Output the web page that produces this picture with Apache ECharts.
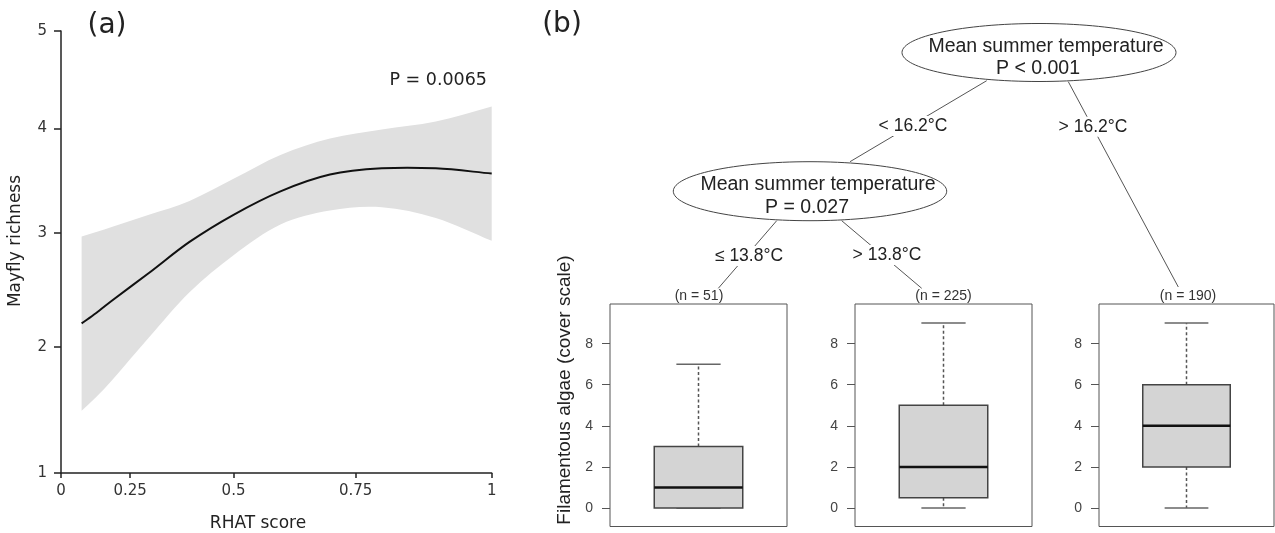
<!DOCTYPE html>
<html><head><meta charset="utf-8">
<script src="https://cdn.jsdelivr.net/npm/echarts@6/dist/echarts.min.js"></script>
<style>html,body{margin:0;padding:0;background:#fff}#c{width:1275px;height:533px}</style>
</head><body><div id="c"></div>
<script>
// ---------- Panel (a) data ----------
const rhatX     = [0.1, 0.15, 0.2, 0.3, 0.4, 0.5, 0.6, 0.7, 0.8, 0.9, 1.0];
const richFit   = [2.20, 2.29, 2.40, 2.64, 2.92, 3.17, 3.39, 3.55, 3.61, 3.61, 3.56];
const richLower = [1.48, 1.59, 1.73, 2.08, 2.47, 2.80, 3.08, 3.21, 3.24, 3.14, 2.93];
const richUpper = [2.97, 3.01, 3.06, 3.17, 3.30, 3.51, 3.74, 3.90, 3.99, 4.07, 4.22];
const xTicks = [0, 0.25, 0.5, 0.75, 1];
const xTickLabels = ['0', '0.25', '0.5', '0.75', '1'];
const yTicks = [1, 2, 3, 4, 5];
const yTickLabels = ['1', '2', '3', '4', '5'];
// ---------- Panel (b) data ----------
const nodeLabels = ['(n = 51)', '(n = 225)', '(n = 190)'];
const boxMin    = [0, 0, 0];
const boxQ1     = [0, 0.5, 2];
const boxMedian = [1, 2, 4];
const boxQ3     = [3, 5, 6];
const boxMax    = [7, 9, 9];
const boxTicks  = [0, 2, 4, 6, 8];

// axis transforms of the original figure (non-linear scales)
const fx = x => Math.pow(x, 1.32);
const fy = v => Math.sqrt(v + 3);
function nearestLabel(val, ticks, labels, f) {
  let b = 0;
  for (let i = 1; i < ticks.length; i++) if (Math.abs(f(ticks[i]) - val) < Math.abs(f(ticks[b]) - val)) b = i;
  return labels[b];
}

const FA = "'DejaVu Sans', Verdana, sans-serif";
const FB = "'Liberation Sans', Arial, sans-serif";

const chart = echarts.init(document.getElementById('c'), null, {renderer: 'canvas'});

const boxGrids = [
  {left: 610, top: 304, width: 177, height: 222.5},
  {left: 855, top: 304, width: 177, height: 222.5},
  {left: 1099, top: 304, width: 175, height: 222.5}
];

const grids = [{left: 61, top: 31, width: 430.7, height: 442, show: false}].concat(
  boxGrids.map(g => Object.assign({show: true, borderColor: '#555', borderWidth: 1, backgroundColor: 'transparent'}, g)));

const xAxes = [{
  gridIndex: 0, type: 'value', min: 0, max: 1,
  axisLine: {show: true, onZero: false, lineStyle: {color: '#222', width: 1.5}},
  axisTick: {show: true, length: 5, lineStyle: {color: '#222', width: 1.5}, customValues: xTicks.map(fx)},
  axisLabel: {show: true, margin: 11, fontFamily: FA, fontSize: 15, color: '#333',
    customValues: xTicks.map(fx), formatter: v => nearestLabel(v, xTicks, xTickLabels, fx)},
  splitLine: {show: false}
}];
const yAxes = [{
  gridIndex: 0, type: 'value', min: fy(1), max: fy(5),
  axisLine: {show: true, onZero: false, lineStyle: {color: '#222', width: 1.5}},
  axisTick: {show: true, length: 7, lineStyle: {color: '#222', width: 1.5}, customValues: yTicks.map(fy)},
  axisLabel: {show: true, margin: 14, fontFamily: FA, fontSize: 15, color: '#333',
    customValues: yTicks.map(fy), formatter: v => nearestLabel(v, yTicks, yTickLabels, fy)},
  splitLine: {show: false}
}];
boxGrids.forEach((g, k) => {
  xAxes.push({gridIndex: k + 1, type: 'category', data: ['box'], show: false});
  yAxes.push({
    gridIndex: k + 1, type: 'value', min: -0.9, max: 9.93,
    axisLine: {show: false},
    axisTick: {show: true, length: 8, lineStyle: {color: '#555', width: 1}, customValues: boxTicks},
    axisLabel: {show: true, margin: 17, fontFamily: FB, fontSize: 14, color: '#444', customValues: boxTicks},
    splitLine: {show: false}
  });
});

// cubic Hermite path segments for a y(x) curve (render-time smoothing in pixel space)
function hermSegs(pts) {
  const n = pts.length;
  const m = pts.map((p, i) => {
    const a = pts[Math.max(i - 1, 0)], b = pts[Math.min(i + 1, n - 1)];
    return (b[1] - a[1]) / (b[0] - a[0]);
  });
  let d = '';
  for (let i = 0; i < n - 1; i++) {
    const p1 = pts[i], p2 = pts[i + 1], dx = (p2[0] - p1[0]) / 3;
    const c1 = [p1[0] + dx, p1[1] + m[i] * dx];
    const c2 = [p2[0] - dx, p2[1] - m[i + 1] * dx];
    d += ' C' + c1[0] + ',' + c1[1] + ' ' + c2[0] + ',' + c2[1] + ' ' + p2[0] + ',' + p2[1];
  }
  return d;
}
function reversePath(pts) {
  // same curve traversed backwards
  const n = pts.length;
  const m = pts.map((p, i) => {
    const a = pts[Math.max(i - 1, 0)], b = pts[Math.min(i + 1, n - 1)];
    return (b[1] - a[1]) / (b[0] - a[0]);
  });
  let d = '';
  for (let i = n - 1; i > 0; i--) {
    const p2 = pts[i], p1 = pts[i - 1], dx = (p2[0] - p1[0]) / 3;
    const c2 = [p2[0] - dx, p2[1] - m[i] * dx];
    const c1 = [p1[0] + dx, p1[1] + m[i - 1] * dx];
    d += ' C' + c2[0] + ',' + c2[1] + ' ' + c1[0] + ',' + c1[1] + ' ' + p1[0] + ',' + p1[1];
  }
  return d;
}
function renderCurve(params, api) {
  if (params.dataIndex !== 0) return null;
  const up = rhatX.map((x, i) => api.coord([fx(x), fy(richUpper[i])]));
  const lo = rhatX.map((x, i) => api.coord([fx(x), fy(richLower[i])]));
  const fit = rhatX.map((x, i) => api.coord([fx(x), fy(richFit[i])]));
  const last = lo[lo.length - 1];
  const band = 'M' + up[0][0] + ',' + up[0][1] + hermSegs(up) + ' L' + last[0] + ',' + last[1] + reversePath(lo) + ' Z';
  const line = 'M' + fit[0][0] + ',' + fit[0][1] + hermSegs(fit);
  return {type: 'group', children: [
    {type: 'path', shape: {pathData: band}, style: {fill: '#e0e0e0', stroke: null}},
    {type: 'path', shape: {pathData: line}, style: {fill: null, stroke: '#111', lineWidth: 2}}
  ]};
}

function renderBox(params, api) {
  const x = api.value(0);
  const pMin = api.coord([x, api.value(1)]);
  const pQ1 = api.coord([x, api.value(2)]);
  const pMd = api.coord([x, api.value(3)]);
  const pQ3 = api.coord([x, api.value(4)]);
  const pMax = api.coord([x, api.value(5)]);
  const bw = api.size([1, 0])[0] * 0.5;
  const cx = pMd[0];
  const dash = {stroke: '#555', lineWidth: 1.5, lineDash: [3, 2.5]};
  const cap = {stroke: '#666', lineWidth: 1.5};
  return {type: 'group', children: [
    {type: 'line', shape: {x1: cx, y1: pQ3[1], x2: cx, y2: pMax[1]}, style: dash},
    {type: 'line', shape: {x1: cx, y1: pQ1[1], x2: cx, y2: pMin[1]}, style: dash},
    {type: 'line', shape: {x1: cx - bw / 4, y1: pMax[1], x2: cx + bw / 4, y2: pMax[1]}, style: cap},
    {type: 'line', shape: {x1: cx - bw / 4, y1: pMin[1], x2: cx + bw / 4, y2: pMin[1]}, style: cap},
    {type: 'rect', shape: {x: cx - bw / 2, y: pQ3[1], width: bw, height: pQ1[1] - pQ3[1]},
      style: {fill: '#d4d4d4', stroke: '#444', lineWidth: 1.5}},
    {type: 'line', shape: {x1: cx - bw / 2, y1: pMd[1], x2: cx + bw / 2, y2: pMd[1]}, style: {stroke: '#111', lineWidth: 2.5}}
  ]};
}

const series = [
  {type: 'custom', xAxisIndex: 0, yAxisIndex: 0, silent: true, renderItem: renderCurve,
    data: rhatX.map((x, i) => [fx(x), fy(richFit[i]), fy(richLower[i]), fy(richUpper[i])])}
];
boxGrids.forEach((g, k) => {
  series.push({type: 'custom', xAxisIndex: k + 1, yAxisIndex: k + 1, renderItem: renderBox, silent: true,
    data: [[0, boxMin[k], boxQ1[k], boxMedian[k], boxQ3[k], boxMax[k]]]});
});

// ---------- text & tree annotations ----------
function txt(text, x, y, size, family, opts) {
  return Object.assign({type: 'text', x: x, y: y, z: 100, style: Object.assign({
    text: text, fontSize: size, fontFamily: family, fill: '#222', align: 'center', verticalAlign: 'middle'}, (opts && opts.style) || {})},
    (opts && opts.el) || {});
}
function seg(x1, y1, x2, y2) {
  return {type: 'line', z: 90, shape: {x1, y1, x2, y2}, style: {stroke: '#555', lineWidth: 1}};
}
function ell(cx, cy, rx, ry) {
  return {type: 'ellipse', z: 95, shape: {cx, cy, rx, ry}, style: {fill: '#fff', stroke: '#444', lineWidth: 1}};
}
const edgeBg = {style: {backgroundColor: '#fff', padding: [1, 2]}};

const graphic = [
  txt('(a)', 107, 26, 28, FA),
  txt('P = 0.0065', 487, 80, 17.5, FA, {style: {align: 'right'}}),
  txt('Mayfly richness', 16, 241, 17, FA, {el: {rotation: Math.PI / 2}}),
  txt('RHAT score', 258, 524, 17, FA),
  txt('(b)', 562, 25, 28, FA),
  // tree edges
  seg(986.7, 80.7, 850, 161.7),
  seg(1068.3, 81.7, 1178.3, 287),
  seg(776.7, 220.7, 718.3, 288.3),
  seg(841.7, 220.7, 921.7, 288.3),
  // nodes
  ell(1039, 52.5, 137, 29),
  ell(810, 191.2, 136.7, 29.5),
  txt('Mean summer temperature', 1046, 46.7, 19.5, FB),
  txt('P < 0.001', 1038, 68.5, 19.5, FB),
  txt('Mean summer temperature', 818, 185, 19.5, FB),
  txt('P = 0.027', 807, 207.7, 19.5, FB),
  // edge labels
  txt('< 16.2°C', 913, 126, 17.5, FB, edgeBg),
  txt('> 16.2°C', 1093, 126.7, 17.5, FB, edgeBg),
  txt('≤ 13.8°C', 749, 256, 17.5, FB, edgeBg),
  txt('> 13.8°C', 887, 255, 17.5, FB, edgeBg),
  // terminal node counts
  txt(nodeLabels[0], 699, 296.5, 14, FB, {style: {fill: '#333'}}),
  txt(nodeLabels[1], 943.5, 296.5, 14, FB, {style: {fill: '#333'}}),
  txt(nodeLabels[2], 1188, 296.5, 14, FB, {style: {fill: '#333'}}),
  txt('Filamentous algae (cover scale)', 565, 390, 19, FB, {el: {rotation: Math.PI / 2}})
];

chart.setOption({animation: false, backgroundColor: '#fff', grid: grids, xAxis: xAxes, yAxis: yAxes, series: series, graphic: graphic});
</script></body></html>
